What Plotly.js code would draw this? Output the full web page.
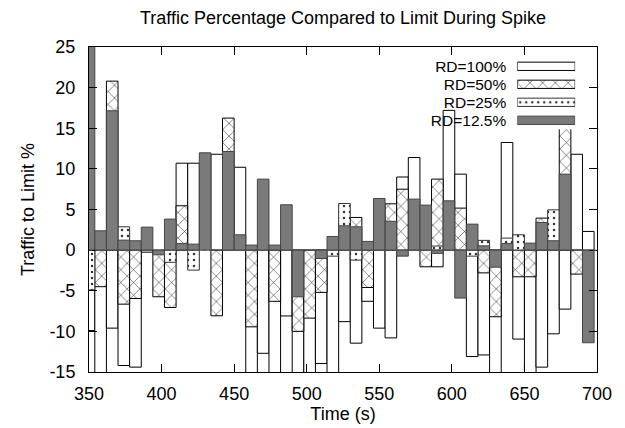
<!DOCTYPE html>
<html>
<head>
<meta charset="utf-8">
<script src="https://cdn.plot.ly/plotly-3.0.1.min.js"></script>
<style>
  html, body { margin: 0; padding: 0; background: #fff; }
  #chart { width: 625px; height: 428px; }
</style>
</head>
<body>
<div id="chart"></div>
<script>
// Time of each box (s)
const times = [350, 358, 366, 374, 382, 390, 398, 406, 414, 422, 430,
               438, 446, 454, 462, 470, 478, 486, 494, 502, 510, 518,
               526, 534, 542, 550, 558, 566, 574, 582, 590, 598, 606,
               614, 622, 630, 638, 646, 654, 662, 670, 678, 686, 694];

// Traffic to limit (%) per series; null = no visible box
const rd100 = [-9.9, -16, -9.6, -14.2, -14.4, -0.25, null, null, 10.7, 10.7, null,
               11.8, null, 10.2, -16, -12.7, -16, -8.1, -16, -16, -13.95, -16,
               -8.8, -11.45, -6.3, -9.6, -10.8, 9.0, 11.4, null, -2.05, 17.2, 9.35,
               -13.1, -12.9, -16, 13.25, -10.95, -16, -14.4, -10.3, -7.26, 11.8, 2.3];
const rd50  = [null, -4.5, 20.8, -6.65, -5.95, null, -5.74, -7.06, 5.46, null, null,
               -8.08, 16.25, null, -9.44, null, -6.3, null, -10.0, -8.37, -5.2, null,
               null, 4.02, -4.6, null, 5.7, 7.5, null, -2.05, 8.74, null, 5.17,
               null, -2.8, -8.2, null, -3.28, -3.28, 3.94, null, 16.8, -2.95, null];
const rd25  = [-4.9, null, null, 2.87, null, null, null, -1.5, null, -2.46, null,
               null, null, null, null, null, null, null, null, null, null, -0.74,
               5.74, -1.23, null, null, null, null, null, null, 0.5, null, null,
               -0.74, 1.2, null, 1.48, 1.89, null, null, 4.96, null, null, null];
const rd125 = [26, 2.38, 17.15, 1.23, 1.15, 2.83, -0.57, 3.82, 0.82, 0.74, 11.98,
               null, 12.14, 1.89, 0.62, 8.74, 0.62, 5.58, -5.74, null, -1.03, 1.68,
               3.0, 2.87, 1.07, 6.36, 3.55, -0.74, 6.28, 5.54, -0.4, 6.07, -5.9,
               3.2, 0.53, -2.1, 0.82, null, 0.86, 3.4, 1.15, 9.35, null, -11.4];

const seriesNames = ['RD=100%', 'RD=50%', 'RD=25%', 'RD=12.5%'];
const seriesData = [rd100, rd50, rd25, rd125];

const xTicks = [350, 400, 450, 500, 550, 600, 650, 700];
const yTicks = [-15, -10, -5, 0, 5, 10, 15, 20, 25];

const FONT = 'Liberation Sans, Arial, Helvetica, sans-serif';

const markers = [
  { color: '#ffffff', line: { color: '#000000', width: 1 } },
  { color: '#ffffff', pattern: { shape: 'x', size: 9, solidity: 0.1, fgcolor: '#000000', bgcolor: '#ffffff' },
    line: { color: '#000000', width: 1 } },
  { color: '#ffffff', pattern: { shape: '.', size: 6, solidity: 0.14, fgcolor: '#333333', bgcolor: '#ffffff' },
    line: { color: '#333333', width: 1 } },
  { color: '#7a7a7a', line: { color: '#444444', width: 1 } }
];

const traces = seriesData.map((vals, i) => ({
  type: 'bar',
  x: times,
  y: vals,
  width: 8,
  name: seriesNames[i],
  marker: markers[i],
  showlegend: false,
  hoverinfo: 'x+y+name'
}));

// legend samples drawn in a small inset axis
seriesNames.forEach((nm, i) => {
  traces.push({
    type: 'bar',
    orientation: 'h',
    x: [1],
    y: [nm],
    base: 0,
    width: 0.46,
    xaxis: 'x2',
    yaxis: 'y2',
    marker: markers[i],
    showlegend: false,
    hoverinfo: 'skip'
  });
});

const layout = {
  width: 625,
  height: 428,
  margin: { l: 89, r: 28, t: 47, b: 56 },
  paper_bgcolor: '#ffffff',
  plot_bgcolor: '#ffffff',
  font: { family: FONT, size: 18, color: '#000000' },
  barmode: 'overlay',
  showlegend: false,
  title: {
    text: 'Traffic Percentage Compared to Limit During Spike',
    font: { family: FONT, size: 18, color: '#000000' },
    x: 0.5, xref: 'paper', xanchor: 'center',
    y: 1 - 18 / 428, yref: 'container', yanchor: 'middle'
  },
  xaxis: {
    range: [350, 700],
    tickvals: xTicks,
    ticktext: xTicks.map(String),
    ticks: 'inside',
    ticklen: 8,
    tickcolor: '#000000',
    showline: true,
    linecolor: '#000000',
    linewidth: 1,
    mirror: 'ticks',
    showgrid: false,
    zeroline: false,
    ticklabelstandoff: 5,
    tickfont: { family: FONT, size: 18 },
    title: { text: 'Time (s)', font: { family: FONT, size: 18 }, standoff: 4 }
  },
  yaxis: {
    range: [-15, 25],
    tickvals: yTicks,
    ticktext: yTicks.map(String),
    ticks: 'inside',
    ticklen: 8,
    tickcolor: '#000000',
    showline: true,
    linecolor: '#000000',
    linewidth: 1,
    mirror: 'ticks',
    showgrid: false,
    zeroline: false,
    ticklabelstandoff: 9,
    tickfont: { family: FONT, size: 18 },
    title: { text: 'Traffic to Limit %', font: { family: FONT, size: 18 }, standoff: 10 }
  },
  xaxis2: {
    domain: [0.843, 0.957],
    anchor: 'y2',
    range: [0, 1],
    visible: false,
    fixedrange: true
  },
  yaxis2: {
    domain: [0.7468, 0.9683],
    anchor: 'x2',
    type: 'category',
    autorange: 'reversed',
    tickmode: 'array',
    tickvals: seriesNames,
    ticktext: seriesNames,
    showline: false,
    showgrid: false,
    zeroline: false,
    ticks: '',
    ticklabelstandoff: 10,
    tickfont: { family: FONT, size: 15.5 },
    fixedrange: true
  },
  shapes: [
    { type: 'line', xref: 'paper', yref: 'y', x0: 0, x1: 1, y0: 0, y1: 0,
      line: { color: '#555555', width: 1, dash: 'dot' }, layer: 'above' }
  ]
};

Plotly.newPlot('chart', traces, layout, { displayModeBar: false, staticPlot: true });
</script>
</body>
</html>
